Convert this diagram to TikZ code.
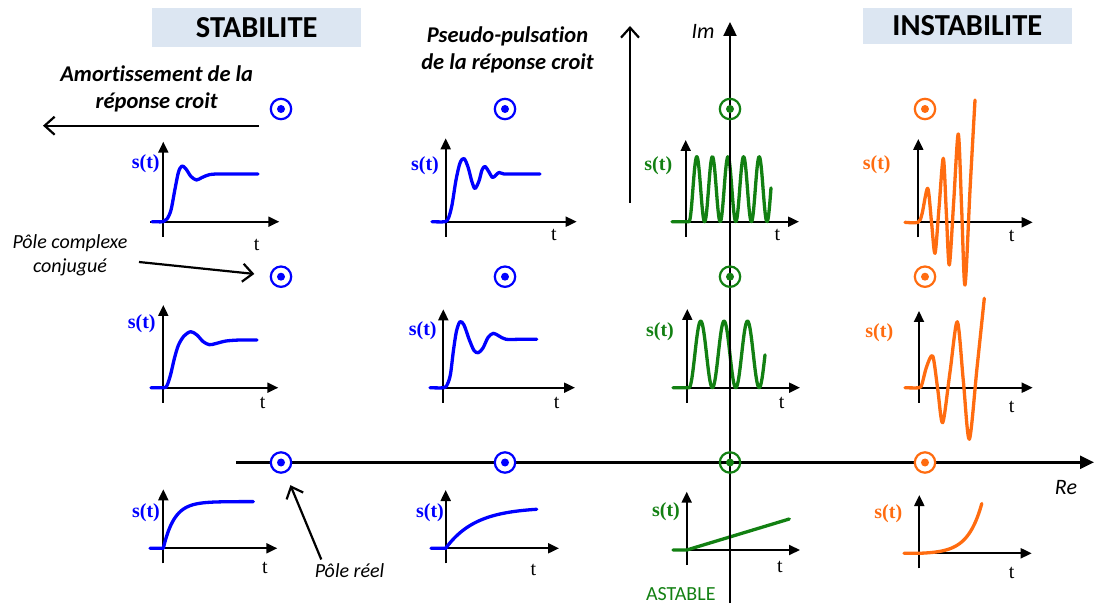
\documentclass[tikz,border=0pt]{standalone}
\usepackage{fontspec}
\setmainfont{Carlito}[Ligatures=NoCommon]
\newfontfamily\timesfont{Liberation Serif}
\usetikzlibrary{arrows.meta}

\definecolor{cblue}{RGB}{0,0,255}
\definecolor{cgreen}{RGB}{18,128,18}
\definecolor{corange}{RGB}{255,108,16}
\definecolor{boxfill}{RGB}{220,230,242}

\begin{document}
\begin{tikzpicture}[x=1pt, y=-1pt,
  pole/.style={circle, draw=#1, line width=2.2pt, minimum size=20.4pt, inner sep=0pt,
    path picture={\fill[#1] (path picture bounding box.center) circle (4pt);}},
  bigaxis/.style={line width=2.4pt, -{Triangle[length=14pt,width=13pt]}},
  plotaxis/.style={line width=2pt, -{Triangle[length=11pt,width=10pt]}},
  resp/.style={line width=3.3pt, line join=round, line cap=round},
  annot/.style={line width=2.2pt, -{Straight Barb[length=10pt,width=18pt]}},
  sig/.style={text=#1, inner sep=0pt, font=\timesfont\bfseries\fontsize{20}{20}\selectfont},
  tlab/.style={inner sep=0pt, font=\timesfont\fontsize{20}{20}\selectfont},
  titlebox/.style={fill=boxfill, inner sep=0pt, minimum width=209pt, font=\bfseries\fontsize{30.5}{30.5}\selectfont},
  lead/.style={align=center, font=\bfseries\itshape\fontsize{22.5}{27}\selectfont},
  note/.style={align=center, font=\itshape\fontsize{20}{24}\selectfont},
  axlab/.style={font=\itshape\fontsize{22}{22}\selectfont}]
\useasboundingbox (0,0) rectangle (1104,612);

% ---- headings ----
\node[titlebox, minimum height=39pt] (stab) at (256.7,28) {STABILITE};
\node[titlebox, minimum height=36pt] (instab) at (967.3,25.7) {INSTABILITE};

% ---- trends ----
\node[lead] (amort) at (156.7,89) {Amortissement de la\\réponse croit};
\coordinate (dampR) at (259,125.7);
\coordinate (dampL) at (43,125.7);
\draw[annot] (dampR) -- (dampL);
\node[lead] (pseudo) at (507.5,50) {Pseudo-pulsation\\de la réponse croit};
\coordinate (pulsB) at (630,203);
\coordinate (pulsT) at (630,26);
\draw[annot] (pulsB) -- (pulsT);

% ---- small responses: axes and labels ----
\foreach \id/\ox/\oy/\h/\w/\c/\sx/\sy/\tx/\ty in {
    aa/163.3/221.7/80/116/cblue/145.7/163.3/256.7/245,
    ab/445.7/221.7/83.4/131/cblue/425/165.7/554/235,
    ac/685.7/221.7/81.7/113.3/cgreen/658.3/165.7/777.3/235,
    ad/918.3/222.3/83.3/114.4/corange/876.7/165/1011.7/236,
    ba/163.3/387.7/82.7/115/cblue/141.7/324/262.7/403.3,
    bb/443.3/387.7/78.4/131.7/cblue/422.7/330.7/556.7/403.3,
    bc/687.3/387.7/78.7/112.7/cgreen/660/331.7/781.7/403.3,
    bd/919/387.7/76.7/113.7/corange/879.3/332.7/1011.7/406.7,
    ca/163.3/548.3/59/114/cblue/146/512.7/265/568.3,
    cb/445.7/548.3/58.3/113.3/cblue/430/512.7/533.3/570,
    cc/686.7/550/58.3/113.3/cgreen/666/511.7/780/566.7,
    cd/919.3/553.3/58.3/112.4/corange/888.3/514/1011.7/572.7} {
  \draw[plotaxis] (\ox,\oy+15) -- (\ox,\oy-\h);
  \draw[plotaxis] (\ox-13,\oy) -- (\ox+\w,\oy);
  \node[sig=\c] (s\id) at (\sx,\sy) {s(t)};
  \node[tlab] (t\id) at (\tx,\ty) {t};
}

% ---- curves ----
\draw[resp, cblue] plot[smooth] coordinates {(152,221.7) (163,221.7) (167,219) (171,210) (175,189)
  (178.5,172) (182,166) (186,169) (191,176.5) (196.5,180) (202,177.5) (210,174.5) (222,174) (258,174)};
\draw[resp, cblue] plot[smooth] coordinates {(432,221.7) (445,221.7) (448.5,218) (452,205) (456,180)
  (460,163) (464,158.5) (468,167) (472,182) (475,188.5) (479,181) (482,170) (485,166.5) (489,172)
  (492.5,177.5) (496,175) (499,172.5) (504,174) (515,174) (540,174)};
\draw[resp, cgreen] (672,221.7) -- plot[domain=0:82, samples=200] ({689+\x},{221.7-32.5*(1-cos((\x/15.6)*360))});
\draw[resp, corange] plot[smooth] coordinates {(905,222.3) (918,222.3) (922,214) (927.7,188.3) (931.5,222)
  (935,253.3) (939,208) (943.3,158.3) (946.3,212) (949.3,265) (953.8,200) (958.3,134) (961.7,210)
  (965,285) (970,190) (975,100)};

\draw[resp, cblue] plot[smooth] coordinates {(151,387.7) (164,387.7) (167,385.5) (170.5,375) (174.5,358)
  (178.5,345) (184,336) (190.7,331.7) (197,335) (203,341.5) (209.3,344.7) (216,343.5) (226,341)
  (240,340) (257,340)};
\draw[resp, cblue] plot[smooth] coordinates {(430,387.7) (444,387.7) (447.5,384) (450.5,374) (453.5,350)
  (456.5,331) (460,321.7) (464,325) (469,339) (474,350.5) (478.3,352.7) (483,348) (488,337.5)
  (493.3,333.3) (499,336) (506,339.3) (520,339.3) (536.7,339.3)};
\draw[resp, cgreen] (673,387.7) -- plot[domain=0:76, samples=160] ({689+\x},{387.7-33.3*(1-cos((\x/23.4)*360))});
\draw[resp, corange] plot[smooth] coordinates {(905,387.7) (919,387.7) (922,384) (926.5,367) (932.7,356)
  (937.7,389) (942.7,422.7) (950,372) (957.3,321.7) (963.3,380.5) (969.3,439.3) (977,368) (984.3,298.3)};

\draw[resp, cblue] (150,548.3) -- plot[domain=0:90, samples=60] ({163.3+\x},{548.3-46.7*(1-exp(-\x/11))});
\draw[resp, cblue] (431,548.3) -- plot[domain=0:91, samples=60] ({445.7+\x},{548.3-41*(1-exp(-\x/30))});
\draw[resp, cgreen] (673,550) -- (686.7,550) -- (789.3,519);
\draw[resp, corange] (904,553.3) -- plot[domain=0:62.5, samples=60] ({919.3+\x},{553.3-0.58*(exp(\x/14)-1)});

% ---- complex plane ----
\coordinate (reL) at (236,462.3);
\coordinate (reR) at (1094,462.3);
\coordinate (imB) at (730,603);
\coordinate (imT) at (730,22);
\draw[bigaxis] (reL) -- (reR);
\draw[bigaxis] (imB) -- (imT);
\node[axlab] (imlab) at (703,31) {Im};
\node[axlab] (relab) at (1066,488) {Re};

% ---- poles ----
\foreach \r/\py in {1/109, 2/276.7, 3/462.5} {
  \node[pole=cblue, fill=white] (p\r-1) at (281,\py) {};
  \node[pole=cblue, fill=white] (p\r-2) at (505,\py) {};
  \node[pole=cgreen] (p\r-3) at (730,\py) {};
  \node[pole=corange, fill=white] (p\r-4) at (925,\py) {};
}

% ---- annotations ----
\node[note] (cplx) at (70,255) {Pôle complexe\\conjugué};
\draw[annot, shorten >=15.5pt] ([xshift=8pt, yshift=-7pt]cplx.east) -- (p2-1);
\node[note] (reel) at (349.5,571) {Pôle réel};
\draw[annot, shorten >=13.3pt] ([xshift=10pt, yshift=1pt]reel.north west) -- (p3-1);
\node[text=cgreen, font=\fontsize{20}{20}\selectfont] (astab) at (680.8,594) {ASTABLE};
\end{tikzpicture}
\end{document}
